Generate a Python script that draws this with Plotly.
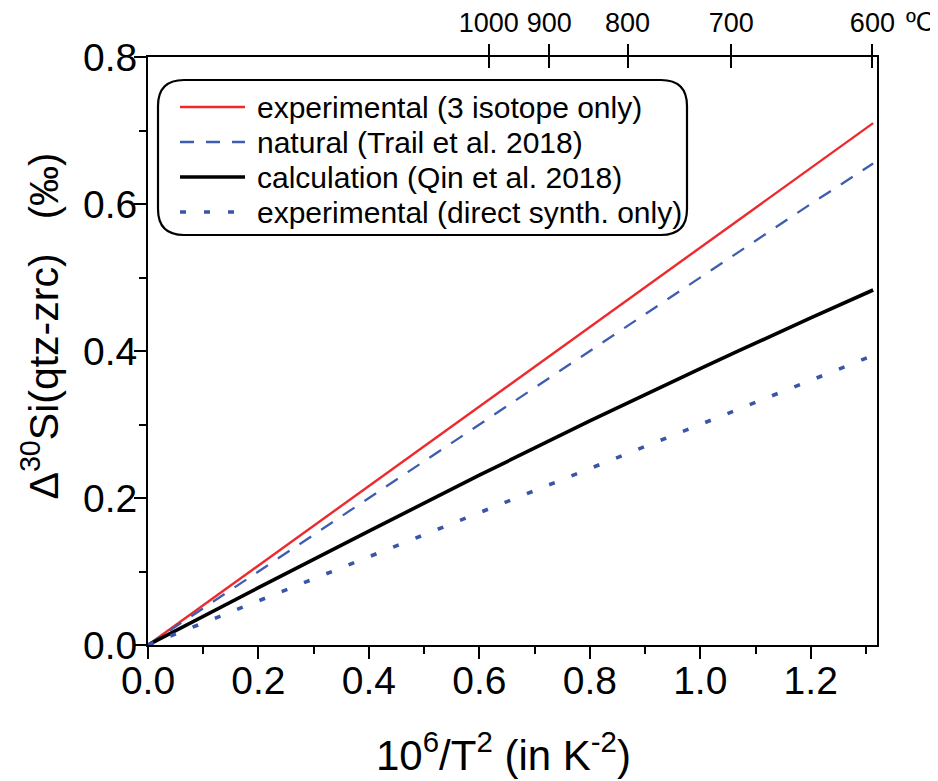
import plotly.graph_objects as go

# ---- data ----
x_vals = [0.0, 0.2, 0.4, 0.6, 0.8, 1.0, 1.2, 1.313]
exp_3iso = [0.0, 0.108, 0.216, 0.325, 0.433, 0.541, 0.649, 0.710]
natural_trail = [0.0, 0.100, 0.200, 0.300, 0.400, 0.500, 0.600, 0.655]
calc_qin = [0.0, 0.078, 0.155, 0.231, 0.305, 0.376, 0.445, 0.483]
exp_direct = [0.0, 0.060, 0.120, 0.180, 0.240, 0.300, 0.360, 0.394]

series_names = [
    "experimental (3 isotope only)",
    "natural (Trail et al. 2018)",
    "calculation (Qin et al. 2018)",
    "experimental (direct synth. only)",
]

temps_c = [1000, 900, 800, 700, 600]  # top axis labels, °C
top_tickvals = [1e6 / (t + 273.15) ** 2 for t in temps_c]
top_ticktext = [str(t) for t in temps_c]

FONT = "Arial, Liberation Sans, sans-serif"

styles = [
    dict(color="#ec2a2e", width=2.4, dash="solid"),
    dict(color="#3f5db0", width=2.3, dash="14px,12px"),
    dict(color="#000000", width=3.6, dash="solid", shape="spline"),
    dict(color="#3a55a8", width=3.6, dash="6px,18px"),
]

fig = go.Figure()
for name, ys, st in zip(series_names, [exp_3iso, natural_trail, calc_qin, exp_direct], styles):
    fig.add_trace(go.Scatter(x=x_vals, y=ys, mode="lines", name=name, line=st,
                             showlegend=False))

# invisible traces to activate the top (temperature) axes
for ax in ["x2", "x3"]:
    fig.add_trace(go.Scatter(x=[top_tickvals[0]], y=[0], xaxis=ax, mode="markers",
                             marker=dict(opacity=0), showlegend=False, hoverinfo="skip"))

xr = [0, 1.32]
# the page body has an 8px default margin, so the plot margins are reduced by 8
fig.update_layout(
    width=938, height=781,
    margin=dict(l=140, r=69, t=49, b=144),
    paper_bgcolor="white", plot_bgcolor="white",
    font=dict(family=FONT, color="black"),
    xaxis=dict(
        range=xr, showgrid=False, zeroline=False, automargin=False,
        showline=True, linecolor="black", linewidth=2, mirror=True,
        ticks="outside", ticklen=12, tickwidth=2, tickcolor="black",
        tickvals=[0, 0.2, 0.4, 0.6, 0.8, 1.0, 1.2],
        ticktext=["0.0", "0.2", "0.4", "0.6", "0.8", "1.0", "1.2"],
        tickfont=dict(size=39, family=FONT), ticklabelstandoff=-12,
        minor=dict(tickvals=[0.1, 0.3, 0.5, 0.7, 0.9, 1.1, 1.3], ticklen=7,
                   tickwidth=2, tickcolor="black", ticks="outside"),
    ),
    xaxis2=dict(
        range=xr, overlaying="x", side="top", showgrid=False, zeroline=False,
        automargin=False, showline=False,
        ticks="outside", ticklen=12, tickwidth=2, tickcolor="black",
        tickvals=top_tickvals, ticktext=top_ticktext, ticklabelstandoff=1,
        tickfont=dict(size=27, family=FONT), anchor="y",
    ),
    xaxis3=dict(
        range=xr, overlaying="x", side="top", showgrid=False, zeroline=False,
        automargin=False, showline=False,
        ticks="inside", ticklen=11, tickwidth=2, tickcolor="black",
        tickvals=top_tickvals, showticklabels=False, anchor="y",
    ),
    yaxis=dict(
        range=[0, 0.8], showgrid=False, zeroline=False, automargin=False,
        showline=True, linecolor="black", linewidth=2, mirror=True,
        ticks="outside", ticklen=12, tickwidth=2, tickcolor="black",
        tickvals=[0, 0.2, 0.4, 0.6, 0.8],
        ticktext=["0.0", "0.2", "0.4", "0.6", "0.8"],
        tickfont=dict(size=39, family=FONT), ticklabelstandoff=-11,
        minor=dict(tickvals=[0.1, 0.3, 0.5, 0.7], ticklen=7,
                   tickwidth=2, tickcolor="black", ticks="outside"),
    ),
)

def px_x(p):
    return (p - 148) / 729.0

def px_y(p):
    return (645 - p) / 588.0

# axis titles
fig.add_annotation(text="10<sup>6</sup>/T<sup>2</sup> (in K<sup>-2</sup>)",
                   xref="paper", yref="paper", x=px_x(633), y=px_y(752),
                   xanchor="right", yanchor="middle", showarrow=False,
                   font=dict(size=42, family=FONT))
NB = "\u00a0"
fig.add_annotation(text="Δ<sup>30</sup>Si(qtz-zrc)" + NB * 3 +
                        "<span style='font-size:40px'>(‰)</span>",
                   xref="paper", yref="paper", x=px_x(40), y=px_y(502), textangle=-90,
                   xanchor="center", yanchor="bottom", showarrow=False,
                   font=dict(size=41, family=FONT))

# "°C" unit next to the last top-axis label
fig.add_annotation(text="ºC", xref="paper", yref="paper", x=1.0, y=1.0,
                   xanchor="left", yanchor="middle", xshift=27, yshift=35,
                   showarrow=False, font=dict(size=27, family=FONT))

# ---- legend (drawn box with rounded corners, samples and labels) ----
x0, x1, y0, y1 = px_x(158), px_x(687), px_y(235), px_y(80)
rx, ry = 26 / 729.0, 26 / 588.0
path = (f"M {x0+rx},{y1} L {x1-rx},{y1} Q {x1},{y1} {x1},{y1-ry} "
        f"L {x1},{y0+ry} Q {x1},{y0} {x1-rx},{y0} L {x0+rx},{y0} "
        f"Q {x0},{y0} {x0},{y0+ry} L {x0},{y1-ry} Q {x0},{y1} {x0+rx},{y1} Z")
fig.add_shape(type="path", path=path, xref="paper", yref="paper",
              line=dict(color="black", width=2.2), fillcolor="rgba(0,0,0,0)")

row_px = [107, 142, 177, 212]
for name, st, rp in zip(series_names, styles, row_px):
    ly = px_y(rp)
    fig.add_shape(type="line", xref="paper", yref="paper",
                  x0=px_x(180), x1=px_x(245), y0=ly, y1=ly,
                  line=dict(color=st["color"], width=st["width"], dash=st["dash"]))
    fig.add_annotation(text=name, xref="paper", yref="paper", x=px_x(255), y=ly,
                       xanchor="left", yanchor="middle", showarrow=False,
                       font=dict(size=30, family=FONT))

fig.write_html("out.html")
